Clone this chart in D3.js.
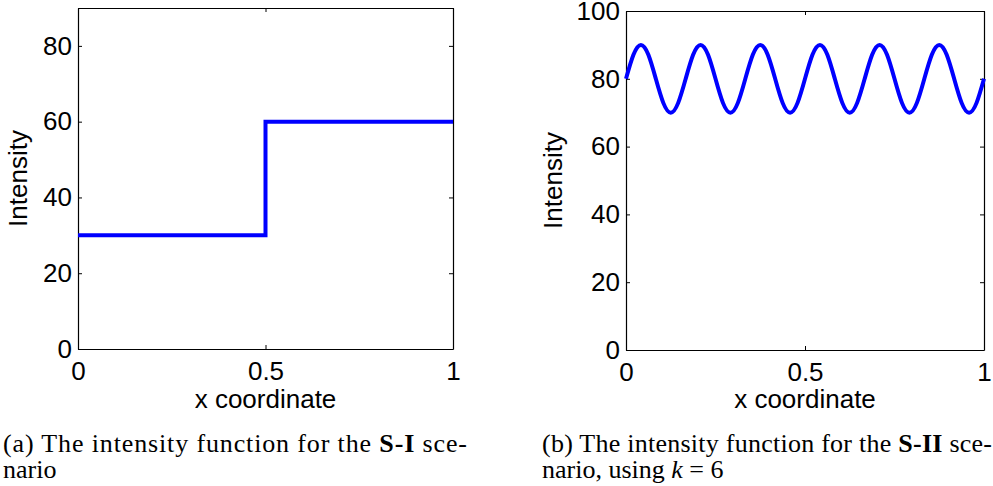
<!DOCTYPE html>
<html>
<head>
<meta charset="utf-8">
<script src="https://cdn.jsdelivr.net/npm/d3@7"></script>
<style>
  html, body { margin: 0; padding: 0; background: #fff; }
  svg { display: block; }
  .axis text { font-family: "Liberation Sans", Arial, sans-serif; font-size: 26px; fill: #000; }
  .axis path, .axis line { stroke: #000; }
  .lbl { font-family: "Liberation Sans", Arial, sans-serif; font-size: 26px; fill: #000; }
  .cap { font-family: "Liberation Serif", "Times New Roman", serif; font-size: 26px; fill: #000; }
</style>
</head>
<body>
<svg id="chart" width="993" height="486"></svg>
<script>
// ---- Data ----
// Panel (a): S-I scenario, step intensity
const stepX = [0, 0.5, 0.5, 1];
const stepY = [30, 30, 60, 60];

// Panel (b): S-II scenario, k = 6 oscillating intensity
const waveX = [0, 0.0208, 0.0417, 0.0625, 0.0833, 0.1042, 0.125, 0.1458,
  0.1667, 0.1875, 0.2083, 0.2292, 0.25, 0.2708, 0.2917, 0.3125,
  0.3333, 0.3542, 0.375, 0.3958, 0.4167, 0.4375, 0.4583, 0.4792,
  0.5, 0.5208, 0.5417, 0.5625, 0.5833, 0.6042, 0.625, 0.6458,
  0.6667, 0.6875, 0.7083, 0.7292, 0.75, 0.7708, 0.7917, 0.8125,
  0.8333, 0.8542, 0.875, 0.8958, 0.9167, 0.9375, 0.9583, 0.9792, 1];
const waveY = [80, 87.1, 90, 87.1, 80, 72.9, 70, 72.9,
  80, 87.1, 90, 87.1, 80, 72.9, 70, 72.9,
  80, 87.1, 90, 87.1, 80, 72.9, 70, 72.9,
  80, 87.1, 90, 87.1, 80, 72.9, 70, 72.9,
  80, 87.1, 90, 87.1, 80, 72.9, 70, 72.9,
  80, 87.1, 90, 87.1, 80, 72.9, 70, 72.9, 80];

// Axis ticks
const xTicks = [0, 0.5, 1];
const yTicksA = [0, 20, 40, 60, 80];
const yTicksB = [0, 20, 40, 60, 80, 100];
const xLabel = "x coordinate";
const yLabel = "Intensity";

const svg = d3.select("#chart");

function panel(opts) {
  const { left, right, top, bottom, yMax, yTicks, xs, ys, curve, ylabX } = opts;
  const x = d3.scaleLinear().domain([0, 1]).range([left, right]);
  const y = d3.scaleLinear().domain([0, yMax]).range([bottom, top]);
  const g = svg.append("g");
  const fmt = d => String(d);

  g.append("g").attr("class", "axis").attr("transform", `translate(0,${bottom})`)
    .call(d3.axisBottom(x).tickValues(xTicks).tickFormat(fmt).tickSizeInner(-4).tickSizeOuter(0).tickPadding(13));
  g.append("g").attr("class", "axis").attr("transform", `translate(0,${top})`)
    .call(d3.axisTop(x).tickValues(xTicks).tickFormat("").tickSizeInner(-4).tickSizeOuter(0));
  g.append("g").attr("class", "axis").attr("transform", `translate(${left},0)`)
    .call(d3.axisLeft(y).tickValues(yTicks).tickFormat(fmt).tickSizeInner(-4).tickSizeOuter(0).tickPadding(6));
  g.append("g").attr("class", "axis").attr("transform", `translate(${right},0)`)
    .call(d3.axisRight(y).tickValues(yTicks).tickFormat("").tickSizeInner(-4).tickSizeOuter(0));

  g.selectAll(".axis text").attr("fill", "#000").style("font-size", "26px");
  g.selectAll(".axis .tick line").attr("stroke", "#444");
  g.selectAll(".axis path.domain").attr("stroke", "#000").attr("stroke-width", 1.2);

  const pts = xs.map((v, i) => [v, ys[i]]);
  g.append("path")
    .datum(pts)
    .attr("fill", "none")
    .attr("stroke", "#0000ff")
    .attr("stroke-width", 4)
    .attr("stroke-linejoin", "miter")
    .attr("d", d3.line().x(d => x(d[0])).y(d => y(d[1])).curve(curve));

  g.append("text").attr("class", "lbl")
    .attr("x", (left + right) / 2).attr("y", 408)
    .attr("text-anchor", "middle").text(xLabel);
  g.append("text").attr("class", "lbl")
    .attr("transform", `translate(${ylabX},${(top + bottom) / 2}) rotate(-90)`)
    .attr("text-anchor", "middle").text(yLabel);
}

panel({ left: 78, right: 453, top: 8, bottom: 349, yMax: 90, yTicks: yTicksA,
        xs: stepX, ys: stepY, curve: d3.curveLinear, ylabX: 27 });
panel({ left: 626, right: 984, top: 11, bottom: 350, yMax: 100, yTicks: yTicksB,
        xs: waveX, ys: waveY, curve: d3.curveNatural, ylabX: 562 });

// captions
function caption(x, y1, y2, len1, parts1, parts2) {
  const t1 = svg.append("text").attr("class", "cap").attr("x", x).attr("y", y1)
    .attr("textLength", len1).attr("lengthAdjust", "spacing")
    .attr("xml:space", "preserve");
  parts1.forEach(p => {
    const s = t1.append("tspan").text(p.t);
    if (p.b) s.attr("font-weight", "bold");
  });
  const t2 = svg.append("text").attr("class", "cap").attr("x", x).attr("y", y2)
    .attr("xml:space", "preserve");
  parts2.forEach(p => {
    const s = t2.append("tspan").text(p.t);
    if (p.i) s.attr("font-style", "italic");
  });
}

caption(3, 452, 478, 464,
  [{ t: "(a) The intensity function for the " }, { t: "S-I", b: true }, { t: " sce-" }],
  [{ t: "nario" }]);
caption(542, 452, 478, 450,
  [{ t: "(b) The intensity function for the " }, { t: "S-II", b: true }, { t: " sce-" }],
  [{ t: "nario, using " }, { t: "k", i: true }, { t: " = 6" }]);
</script>
</body>
</html>
